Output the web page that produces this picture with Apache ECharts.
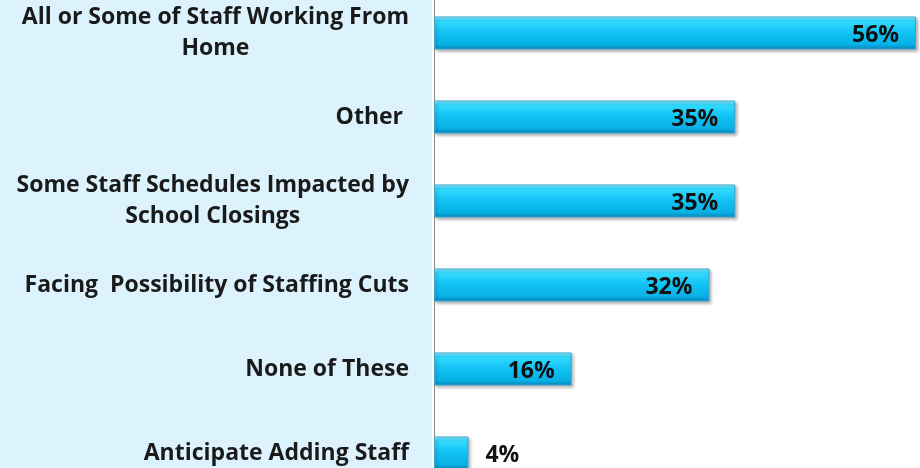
<!DOCTYPE html>
<html>
<head>
<meta charset="utf-8">
<script src="https://cdn.jsdelivr.net/npm/echarts@6/dist/echarts.min.js"></script>
<style>
  html, body { margin: 0; padding: 0; background: #fff; }
  #chart { width: 920px; height: 468px; }
</style>
</head>
<body>
<div id="chart"></div>
<script>
// categories top to bottom
var categories = [
    "All or Some of Staff Working From\nHome",
    "Other ",
    "Some Staff Schedules Impacted by\nSchool Closings",
    "Facing  Possibility of Staffing Cuts",
    "None of These",
    "Anticipate Adding Staff"
];
var values = [56, 35, 35, 32, 16, 4];
// which labels go outside the bar
var outsideLabel = [false, false, false, false, false, true];

var myChart = echarts.init(document.getElementById("chart"));

var barColor = new echarts.graphic.LinearGradient(0, 0, 0, 1, [
    { offset: 0, color: "#9af3ff" },
    { offset: 0.12, color: "#35dcff" },
    { offset: 0.5, color: "#10c2f4" },
    { offset: 0.85, color: "#08b0e6" },
    { offset: 1, color: "#0786b6" }
]);

var seriesData = values.map(function (v, i) {
    return {
        value: v,
        label: outsideLabel[i] ? { position: "right", distance: 17 } : { position: "insideRight", distance: 17 }
    };
});

option = {
    backgroundColor: "#fff",
    animation: false,
    graphic: [{
        type: "rect",
        left: 0,
        top: 0,
        shape: { width: 432, height: 468 },
        style: { fill: "#dcf3fd" },
        z: -10
    }],
    grid: {
        left: 434,
        right: 4,
        top: -9,
        height: 504,
        outerBoundsMode: "none",
        containLabel: false
    },
    xAxis: {
        type: "value",
        min: 0,
        max: 56,
        show: false
    },
    yAxis: {
        type: "category",
        inverse: true,
        data: categories,
        axisLine: { show: true, lineStyle: { color: "#8a8a8a", width: 1 } },
        axisTick: { show: false },
        axisLabel: {
            margin: 25,
            align: "right",
            formatter: function (val) {
                return val.split("\n").map(function (s) { return "{c|" + s + "}"; }).join("\n");
            },
            rich: {
                c: {
                    align: "center",
                    fontFamily: "Open Sans",
                    fontWeight: "bold",
                    fontSize: 23,
                    lineHeight: 31,
                    color: "#1a1a1a"
                }
            }
        }
    },
    series: [{
        type: "bar",
        data: seriesData,
        barWidth: 33,
        itemStyle: {
            color: barColor,
            borderColor: "#3aa6cf",
            borderWidth: 1,
            shadowColor: "rgba(0,0,0,0.3)",
            shadowBlur: 3,
            shadowOffsetX: 2,
            shadowOffsetY: 2
        },
        label: {
            show: true,
            formatter: "{c}%",
            fontFamily: "Open Sans",
            fontWeight: "bold",
            fontSize: 23,
            color: "#111",
            offset: [0, 2]
        }
    }]
};
myChart.setOption(option);
</script>
</body>
</html>
